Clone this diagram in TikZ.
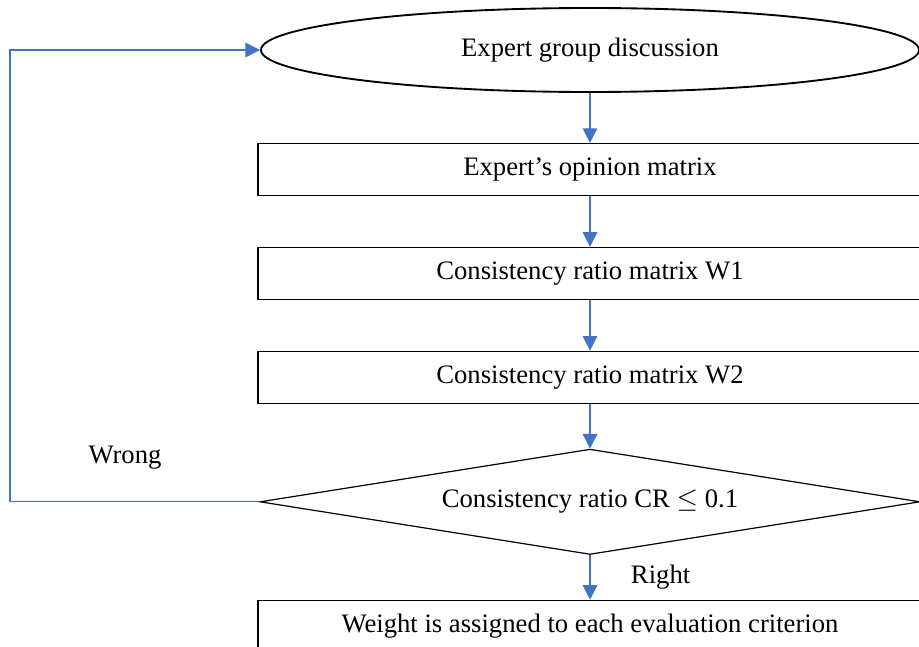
\documentclass[tikz,border=0pt]{standalone}
\usepackage{fontspec}
\setmainfont{Liberation Serif}
\usepackage{tikz}
\usetikzlibrary{positioning,arrows.meta,shapes.geometric}

\definecolor{flowblue}{HTML}{4472C4}

\begin{document}
\begin{tikzpicture}[
    font=\fontsize{20pt}{24pt}\selectfont,
    box/.style={draw, line width=0.9pt, minimum width=498pt, minimum height=39pt, inner sep=0pt},
    oval/.style={draw, ellipse, line width=1.4pt, minimum width=493.5pt, minimum height=63pt, inner sep=0pt},
    check/.style={draw, diamond, shape aspect=6.27, line width=0.9pt, minimum width=495pt, minimum height=79pt, inner sep=0pt},
    flow/.style={-{Triangle[length=11pt,width=11pt]}, flowblue, line width=0.8pt},
]
\clip (0pt,0pt) rectangle (689.25pt,-484.5pt);

\node[oval] (ell) at (442.5pt,-37.5pt) {Expert group discussion};
\node[box, below=37.5pt of ell] (opin) {Expert’s opinion matrix};
\node[box, below=38pt of opin] (w1) {Consistency ratio matrix W1};
\node[box, below=38pt of w1] (w2) {Consistency ratio matrix W2};
\node[check, below=33.5pt of w2] (dec) {Consistency ratio CR $\leq$ 0.1};
\node[box, below=33.5pt of dec] (wgt) {Weight is assigned to each evaluation criterion};

\coordinate (lft) at (7.5pt,0pt);
\node (wrong) at (93.75pt,-343.5pt) {Wrong};

\draw[flow] (ell) -- (opin);
\draw[flow] (opin) -- (w1);
\draw[flow] (w1) -- (w2);
\draw[flow] (w2) -- (dec);
\draw[flow] (dec) -- node[right=27pt, black] (right) {Right} (wgt);
\draw[flow] (dec.west) -- (dec.west -| lft) |- (ell.west);
\end{tikzpicture}
\end{document}
